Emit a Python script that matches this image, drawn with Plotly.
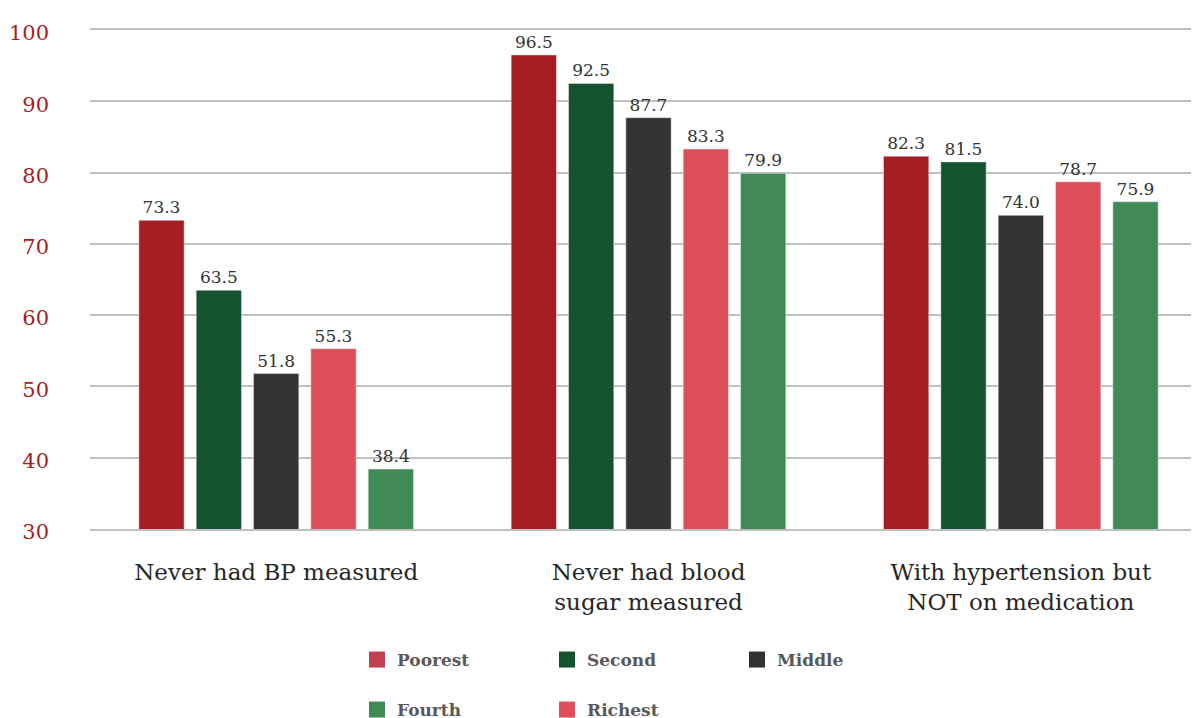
import plotly.graph_objects as go

categories = ["Never had BP measured", "Never had blood<br>sugar measured", "With hypertension but<br>NOT on medication"]
series_names = ["Poorest", "Second", "Middle", "Richest", "Fourth"]
poorest = [73.3, 96.5, 82.3]
second = [63.5, 92.5, 81.5]
middle = [51.8, 87.7, 74.0]
richest = [55.3, 83.3, 78.7]
fourth = [38.4, 79.9, 75.9]
values = [poorest, second, middle, richest, fourth]
colors = ["#a51e22", "#14532d", "#333333", "#e04e5a", "#418a55"]
y_ticks = [30, 40, 50, 60, 70, 80, 90, 100]

legend_rows = [["Poorest", "Second", "Middle"], ["Fourth", "Richest"]]
legend_colors = {"Poorest": "#c1424c", "Second": "#14532d", "Middle": "#333333",
                 "Fourth": "#418a55", "Richest": "#e04e5a"}

FONT = "DejaVu Serif"

fig = go.Figure()
for name, vals, col in zip(series_names, values, colors):
    fig.add_trace(go.Bar(
        name=name, x=categories, y=vals, marker_color=col,
        texttemplate="%{y:.1f}", textposition="outside",
        textfont=dict(family=FONT, size=17, color="#333333"),
        cliponaxis=False, showlegend=False,
    ))

for row_i, row in enumerate(legend_rows):
    lg = "legend" if row_i == 0 else "legend2"
    for rk, name in enumerate(row):
        fig.add_trace(go.Scatter(
            name=name, x=[None], y=[None], mode="markers",
            marker=dict(symbol="square", size=17, color=legend_colors[name]),
            legend=lg, legendrank=rk + 1, showlegend=True, hoverinfo="skip",
        ))

legend_common = dict(
    orientation="h", xref="container", yref="container",
    xanchor="left", yanchor="middle",
    entrywidth=145, entrywidthmode="pixels",
    font=dict(family=FONT, size=17, color="#595959", weight="bold"),
    bgcolor="rgba(0,0,0,0)", itemclick=False, itemsizing="trace",
)

fig.update_layout(
    width=1199, height=718,
    margin=dict(l=82, r=0, t=22, b=197, autoexpand=False),
    plot_bgcolor="white", paper_bgcolor="white",
    barmode="group", bargap=0.23, bargroupgap=0.21,
    showlegend=True,
    legend=dict(x=349 / 1199, y=1 - 652 / 718, **legend_common),
    legend2=dict(x=349 / 1199, y=1 - 702 / 718, **legend_common),
    yaxis=dict(
        range=[30, 100], tickvals=y_ticks, showgrid=True,
        gridcolor="#c0c0c0", gridwidth=1.5, zeroline=False,
        tickfont=dict(family=FONT, size=21, color="#a51e22"),
        ticklabelstandoff=40, ticklabelshift=3, automargin=False,
    ),
    xaxis=dict(
        showline=True, mirror=True, linecolor="#c0c0c0", linewidth=1.5,
        tickfont=dict(family=FONT, size=23, color="#262626"),
        ticklabelstandoff=22, ticks="", automargin=False,
    ),
)

fig.write_html("out.html")
